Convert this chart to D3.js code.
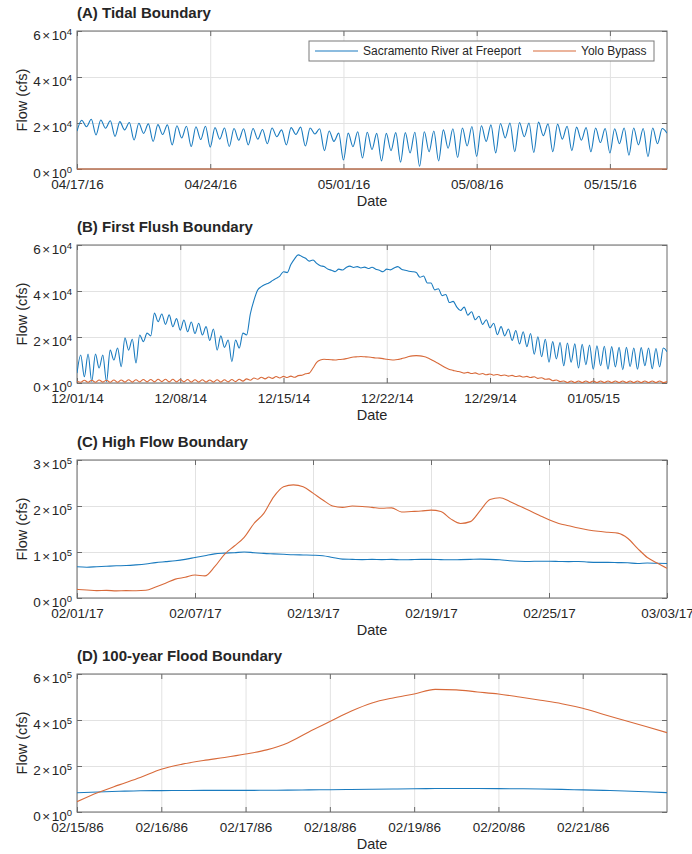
<!DOCTYPE html>
<html>
<head>
<meta charset="utf-8">
<script src="https://cdn.jsdelivr.net/npm/d3@7"></script>
<style>
  body { margin: 0; background: #fff; }
  svg { display: block; font-family: Arial, "Liberation Sans", Helvetica, sans-serif; }
</style>
</head>
<body>
<svg id="chart" width="692" height="854"></svg>
<script>
// ---------------------------------------------------------------
// Boundary inflow series, flow in thousand cfs
// ---------------------------------------------------------------
const seriesNames = ["Sacramento River at Freeport", "Yolo Bypass"];

// (A) Tidal boundary: 6-hourly samples from 04/17/16
const tidalStart = "2016-04-17", tidalEnd = "2016-05-18";
const tidalSacramento = [
  16.5, 21.2, 18.4, 21.6,  14.8, 21.3, 17.7, 21.0,  14.2, 20.6, 17.0, 20.2,
  12.6, 19.9, 15.5, 19.6,  12.0, 19.3, 15.0, 19.2,  10.5, 18.8, 13.5, 18.6,
  9.8, 18.4, 12.8, 18.6,   9.5, 18.0, 13.0, 17.8,   9.8, 17.6, 12.5, 17.5,
  10.5, 17.6, 13.0, 17.2,  11.0, 17.8, 14.0, 17.0,  10.5, 18.0, 15.0, 18.2,
  10.0, 17.8, 15.2, 17.5,  8.0, 16.5, 12.0, 15.6,   3.9, 15.6, 9.7, 16.2,
  4.8, 16.0, 8.5, 15.5,    3.5, 15.5, 8.0, 15.8,    3.0, 15.8, 7.0, 16.0,
  1.2, 16.2, 7.5, 16.5,    3.5, 17.0, 9.0, 17.5,    5.0, 17.8, 10.0, 18.5,
  5.5, 18.8, 12.0, 19.2,   7.0, 19.8, 13.5, 20.0,   7.5, 20.2, 14.0, 20.0,
  7.2, 20.4, 14.5, 19.6,   7.5, 19.5, 13.0, 18.6,   8.0, 18.2, 12.5, 18.0,
  7.5, 17.8, 11.5, 17.6,   7.0, 17.5, 11.0, 17.8,   6.0, 17.8, 10.5, 17.6,
  5.4, 17.8, 11.0, 17.6,   15.6
];
// daily values
const tidalYolo = [
  0, 0, 0, 0, 0, 0, 0, 0, 0, 0, 0, 0, 0, 0, 0, 0,
  0, 0, 0, 0, 0, 0, 0, 0, 0, 0, 0, 0, 0, 0, 0, 0
];
const tidalDateTicks = ["04/17/16", "04/24/16", "05/01/16", "05/08/16", "05/15/16"];
const tidalFlowTicks = [0, 20, 40, 60];
const tidalFlowLabels = ["0×10^0", "2×10^4", "4×10^4", "6×10^4"];

// (B) First flush boundary: 6-hourly samples from 12/01/14
const flushStart = "2014-12-01", flushEnd = "2015-01-10";
const flushSacramento = [
  4.3, 12.2, 2.7, 12.6,    0.6, 12.6, 6.5, 12.2,    0.6, 14.3, 10.0, 15.2,
  7.1, 19.6, 14.3, 19.0,   8.7, 20.9, 18.0, 21.7,   20.5, 30.4, 26.7, 30.0,
  25.5, 29.6, 24.5, 28.0,  23.0, 27.4, 22.3, 26.5,  21.5, 26.0, 20.9, 24.5,
  18.5, 23.5, 14.3, 20.5,  15.5, 18.7, 9.3, 18.7,   15.2, 21.7, 20.9, 30.0,
  36.0, 40.4, 41.9, 42.8,  43.5, 44.5, 45.5, 46.5,  48.4, 48.0, 51.5, 54.0,
  55.7, 55.0, 54.2, 53.0,  53.5, 52.0, 51.0, 50.6,  49.6, 49.0, 48.4, 49.5,
  49.1, 50.2, 50.8, 50.2,  50.6, 50.0, 50.4, 49.8,  50.3, 49.5, 49.0, 48.4,
  49.5, 49.2, 50.0, 50.6,  49.5, 49.0, 48.6, 48.4,  48.0, 46.0, 46.5, 43.5,
  43.5, 40.5, 41.0, 38.0,  38.5, 35.0, 35.5, 33.0,  31.5, 33.0, 29.5, 31.0,
  27.5, 29.0, 25.5, 27.5,  24.0, 26.0, 21.0, 24.5,  20.5, 23.5, 18.5, 22.8,
  17.0, 22.3, 15.8, 21.5,  12.5, 20.1, 11.4, 19.0,  9.0, 18.0, 10.5, 17.6,
  7.5, 17.4, 9.0, 17.0,    6.5, 16.8, 8.0, 16.5,    6.0, 16.2, 7.5, 16.0,
  6.0, 15.8, 7.0, 15.5,    5.8, 15.5, 7.2, 15.2,    6.0, 15.4, 7.5, 15.2,
  6.2, 15.0, 7.0, 15.2,    13.6
];
const flushYolo = [
  0.8, 0.3, 1.2, 0.3,  1.2, 0.3, 1.3, 0.4,  1.2, 0.3, 1.3, 0.3,  1.3, 0.4, 1.4, 0.4,
  1.4, 0.5, 1.5, 0.5,  1.5, 0.5, 1.6, 0.6,  1.6, 0.5, 1.6, 0.5,  1.5, 0.5, 1.5, 0.4,
  1.4, 0.4, 1.4, 0.4,  1.3, 0.4, 1.4, 0.4,  1.4, 0.5, 1.5, 0.6,  1.6, 0.8, 1.8, 1.2,
  2.2, 1.6, 2.5, 1.8,  2.6, 2.0, 2.8, 2.2,  2.9, 2.4, 3.0, 2.5,  3.2, 3.4, 4.0, 4.3,
  6.5, 9.0, 10.0, 10.3,  10.2, 10.1, 10.0, 10.2,  10.3, 10.6, 11.0, 11.3,
  11.4, 11.5, 11.4, 11.3,  11.1, 10.9, 10.8, 10.6,  10.3, 10.1, 10.0, 10.2,
  10.6, 11.0, 11.5, 11.8,  11.9, 11.8, 11.5, 11.0,  10.2, 9.3, 8.5, 7.5,
  6.6, 5.9, 5.5, 5.1,  4.8, 4.3, 4.6, 4.1,  4.4, 3.8, 4.1, 3.6,  3.9, 3.4, 3.7, 3.2,
  3.5, 3.0, 3.3, 2.8,  3.1, 2.6, 2.9, 2.4,  2.7, 2.0, 2.3, 1.6,  1.8, 1.0, 1.3, 0.6,
  0.9, 0.2, 0.9, 0.2,  0.9, 0.2, 0.9, 0.2,  0.9, 0.2, 0.9, 0.2,  0.9, 0.2, 0.9, 0.2,
  0.9, 0.2, 0.9, 0.2,  0.9, 0.2, 0.9, 0.2,  0.9, 0.2, 0.9, 0.2,  0.6
];
const flushDateTicks = ["12/01/14", "12/08/14", "12/15/14", "12/22/14", "12/29/14", "01/05/15"];
const flushFlowTicks = [0, 20, 40, 60];
const flushFlowLabels = ["0×10^0", "2×10^4", "4×10^4", "6×10^4"];

// (C) High flow boundary: 12-hourly samples from 02/01/17
const highStart = "2017-02-01", highEnd = "2017-03-03";
const highSacramento = [
  68, 67, 68, 69, 70, 70.5, 72, 74, 77, 79, 81, 84, 88, 92, 96, 97.5,
  98.5, 100, 98.5, 97, 96, 95, 94, 93.5, 93, 92, 88, 84.5, 84, 83.5, 84, 83.5,
  84, 83, 83.5, 84, 84, 83.5, 83, 83.5, 84, 84.5, 84, 83, 81, 80,
  79.5, 80, 80, 79.5, 79, 79.5, 78, 77.5, 77.5, 77, 76.5, 75, 76, 75.5, 75
];
const highYolo = [
  18.8, 17.5, 16.0, 16.5, 15.5, 16.0, 15.8, 16.7, 24, 32, 41, 45, 50, 48, 68, 95,
  113, 132, 162, 184, 220, 242, 246, 242, 228, 213, 200, 197, 200, 199, 197, 195,
  196, 187, 188, 189, 191, 188, 172, 162, 166, 190, 214, 218, 210, 200,
  190, 180, 170, 162, 157, 152, 148, 145, 143, 141, 130, 108, 88, 76, 64.5
];
const highDateTicks = ["02/01/17", "02/07/17", "02/13/17", "02/19/17", "02/25/17", "03/03/17"];
const highFlowTicks = [0, 100, 200, 300];
const highFlowLabels = ["0×10^0", "1×10^5", "2×10^5", "3×10^5"];

// (D) 100-year flood boundary: 6-hourly samples from 02/15/86
const floodStart = "1986-02-15", floodEnd = "1986-02-22";
const floodSacramento = [
  84, 87, 90, 92.5, 93, 93.5, 94, 94, 94, 94.5, 95, 96, 97, 98, 99,
  100, 101, 102, 102.5, 102, 101.5, 101, 100, 98.5, 96, 94, 91.5, 88, 84
];
const floodYolo = [
  45, 85, 118, 150, 186, 208, 224, 237, 252, 270, 300, 348, 393, 438, 474,
  496, 513, 533, 531, 522, 513, 500, 486, 471, 451, 424, 398, 372, 345
];
const floodDateTicks = ["02/15/86", "02/16/86", "02/17/86", "02/18/86", "02/19/86", "02/20/86", "02/21/86"];
const floodFlowTicks = [0, 200, 400, 600];
const floodFlowLabels = ["0×10^0", "2×10^5", "4×10^5", "6×10^5"];

// ---------------------------------------------------------------
// Layout and style
// ---------------------------------------------------------------
const BLUE = "#1a7bbf", ORANGE = "#d86a3a";
const TEXT = "#262626", AXIS = "#6b6b6b", GRID = "#e2e2e2";
const plotLeft = 77, plotWidth = 590, plotHeight = 138;

const panels = [
  { title: "(A) Tidal Boundary", top: 31, start: tidalStart, end: tidalEnd,
    dateTicks: tidalDateTicks, flowTicks: tidalFlowTicks, flowLabels: tidalFlowLabels, flowMax: 60,
    series: [{ values: tidalSacramento, stepHours: 6, color: BLUE },
             { values: tidalYolo, stepHours: 24, color: ORANGE }],
    legend: true },
  { title: "(B) First Flush Boundary", top: 245, start: flushStart, end: flushEnd,
    dateTicks: flushDateTicks, flowTicks: flushFlowTicks, flowLabels: flushFlowLabels, flowMax: 60,
    series: [{ values: flushSacramento, stepHours: 6, color: BLUE },
             { values: flushYolo, stepHours: 6, color: ORANGE }] },
  { title: "(C) High Flow Boundary", top: 460, start: highStart, end: highEnd,
    dateTicks: highDateTicks, flowTicks: highFlowTicks, flowLabels: highFlowLabels, flowMax: 300,
    series: [{ values: highSacramento, stepHours: 12, color: BLUE },
             { values: highYolo, stepHours: 12, color: ORANGE }] },
  { title: "(D) 100-year Flood Boundary", top: 674, start: floodStart, end: floodEnd,
    dateTicks: floodDateTicks, flowTicks: floodFlowTicks, flowLabels: floodFlowLabels, flowMax: 600,
    series: [{ values: floodSacramento, stepHours: 6, color: BLUE },
             { values: floodYolo, stepHours: 6, color: ORANGE }] }
];

const parseIso = d3.utcParse("%Y-%m-%d");
const parseTick = d3.utcParse("%m/%d/%y");
const formatTick = d3.utcFormat("%m/%d/%y");

const svg = d3.select("#chart");

panels.forEach((p, pi) => {
  const g = svg.append("g").attr("transform", `translate(${plotLeft},${p.top})`);
  const x = d3.scaleUtc().domain([parseIso(p.start), parseIso(p.end)]).range([0, plotWidth]);
  const y = d3.scaleLinear().domain([0, p.flowMax]).range([plotHeight, 0]);
  const tickDates = p.dateTicks.map(parseTick);

  // grid
  const gx = g.append("g").attr("transform", `translate(0,${plotHeight})`)
    .call(d3.axisBottom(x).tickValues(tickDates).tickSize(-plotHeight).tickFormat(""));
  const gy = g.append("g")
    .call(d3.axisLeft(y).tickValues(p.flowTicks).tickSize(-plotWidth).tickFormat(""));
  [gx, gy].forEach(a => {
    a.select(".domain").remove();
    a.selectAll("line").attr("stroke", GRID).attr("stroke-width", 1);
  });

  // box
  g.append("rect").attr("width", plotWidth).attr("height", plotHeight)
    .attr("fill", "none").attr("stroke", AXIS).attr("stroke-width", 1);

  // inward tick marks on all four sides, labels bottom and left
  const bottom = g.append("g").attr("transform", `translate(0,${plotHeight})`)
    .call(d3.axisBottom(x).tickValues(tickDates).tickSizeInner(-5).tickSizeOuter(0)
      .tickPadding(10).tickFormat(formatTick));
  const top = g.append("g")
    .call(d3.axisTop(x).tickValues(tickDates).tickSizeInner(-5).tickSizeOuter(0).tickFormat(""));
  const left = g.append("g")
    .call(d3.axisLeft(y).tickValues(p.flowTicks).tickSizeInner(-5).tickSizeOuter(0)
      .tickPadding(5).tickFormat((d, i) => p.flowLabels[i]));
  const right = g.append("g").attr("transform", `translate(${plotWidth},0)`)
    .call(d3.axisRight(y).tickValues(p.flowTicks).tickSizeInner(-5).tickSizeOuter(0).tickFormat(""));
  [bottom, top, left, right].forEach(a => {
    a.select(".domain").remove();
    a.selectAll("line").attr("stroke", AXIS);
    a.selectAll("text").attr("fill", TEXT).attr("font-size", "13.5px")
      .attr("font-family", 'Arial, "Liberation Sans", sans-serif');
  });

  // mantissa × 10 with raised exponent
  left.selectAll(".tick text").each(function () {
    const t = d3.select(this);
    const [base, exp] = t.text().split("^");
    const [mant, ten] = base.split("×");
    t.text(null).attr("y", 4);
    t.append("tspan").text(mant);
    t.append("tspan").attr("dx", 1.5).text("×");
    t.append("tspan").attr("dx", 1.5).text(ten);
    t.append("tspan").attr("dy", "-0.5em").attr("font-size", "9.5px").text(exp);
  });

  // data lines
  const clipId = `clip-${pi}`;
  g.append("clipPath").attr("id", clipId).append("rect")
    .attr("x", 0).attr("y", -2).attr("width", plotWidth).attr("height", plotHeight + 4);
  const t0 = parseIso(p.start).getTime();
  const line = d3.line()
    .x(d => x(d.t)).y(d => y(d.v))
    .curve(d3.curveMonotoneX);
  p.series.forEach(s => {
    const pts = s.values.map((v, i) => ({ t: new Date(t0 + i * s.stepHours * 3600e3), v }));
    g.append("path").datum(pts)
      .attr("clip-path", `url(#${clipId})`)
      .attr("fill", "none").attr("stroke", s.color).attr("stroke-width", 1.1)
      .attr("stroke-linejoin", "round")
      .attr("d", line);
  });

  // titles and axis labels
  g.append("text").attr("x", 0).attr("y", -13)
    .attr("font-size", "15px").attr("font-weight", "bold").attr("fill", TEXT)
    .text(p.title);
  g.append("text").attr("x", plotWidth / 2).attr("y", plotHeight + 37)
    .attr("text-anchor", "middle").attr("font-size", "14.5px").attr("fill", TEXT)
    .text("Date");
  g.append("text").attr("transform", `translate(${-50},${plotHeight / 2}) rotate(-90)`)
    .attr("text-anchor", "middle").attr("font-size", "14.5px").attr("fill", TEXT)
    .text("Flow (cfs)");

  // legend
  if (p.legend) {
    const lg = g.append("g").attr("transform", "translate(232,10)");
    lg.append("rect").attr("width", 345).attr("height", 20)
      .attr("fill", "#fff").attr("stroke", "#7a7a7a").attr("stroke-width", 1);
    const items = [{ x: 6, color: BLUE }, { x: 224, color: ORANGE }];
    items.forEach((it, i) => {
      lg.append("line").attr("x1", it.x).attr("x2", it.x + 43).attr("y1", 10).attr("y2", 10)
        .attr("stroke", it.color).attr("stroke-width", 1.1);
      lg.append("text").attr("x", it.x + 48).attr("y", 10).attr("dy", "0.35em")
        .attr("font-size", "12px").attr("fill", TEXT).text(seriesNames[i]);
    });
  }
});
</script>
</body>
</html>
